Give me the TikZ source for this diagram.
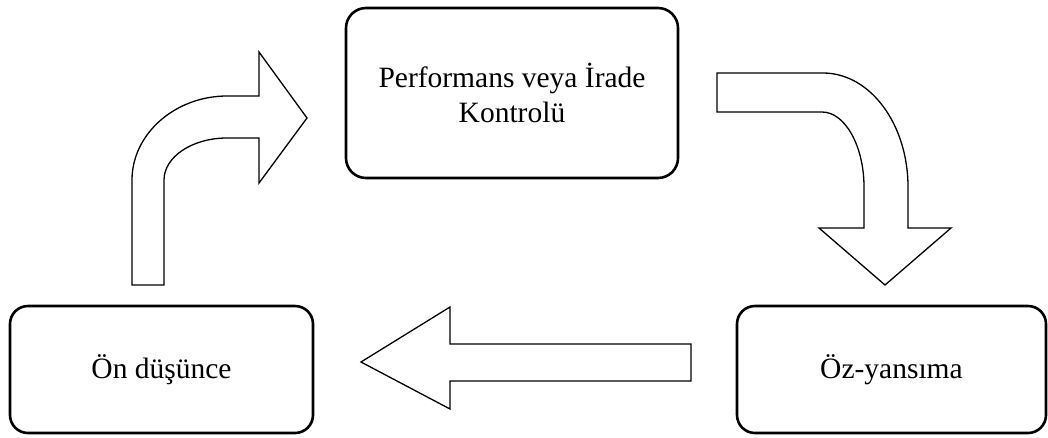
\documentclass[tikz,border=0pt]{standalone}
\usepackage{fontspec}
\setmainfont{Liberation Serif}
\begin{document}
\begin{tikzpicture}[x=1pt,y=-1pt,
  stagebox/.style={draw=black,line width=2.6pt,rounded corners=18pt,fill=white,
    align=center,inner sep=0pt,font=\fontsize{29.5}{35}\selectfont},
  blockarrow/.style={draw=black,line width=1.3pt,fill=white,line join=miter}]
\useasboundingbox (0,0) rectangle (1048,437);
% stage boxes
\node[stagebox,minimum width=332pt,minimum height=170pt,rounded corners=20pt] (perf) at (512,93)
  {Performans veya İrade\\Kontrolü};
\node[stagebox,minimum width=303pt,minimum height=127pt] (fore) at (161.5,369.5) {Ön düşünce};
\node[stagebox,minimum width=309pt,minimum height=127pt] (self) at (891.5,369.5) {Öz-yansıma};
% bent arrow: Ön düşünce -> Performans
\draw[blockarrow] (132,285) -- (132,180)
  .. controls (132,134) and (175,96) .. (227,96)
  -- (259,96) -- (259,52) -- (307,118) -- (259,183) -- (259,138) -- (227,138)
  .. controls (192,138) and (164,157) .. (164,180)
  -- (164,285) -- cycle;
% bent arrow: Performans -> Öz-yansıma
\draw[blockarrow] (717,73) -- (823,73)
  .. controls (870,73) and (908,124) .. (908,187)
  -- (908,228) -- (951,228) -- (885,285) -- (819,228) -- (864,228) -- (864,187)
  .. controls (864,146) and (845,112) .. (822,112)
  -- (717,112) -- cycle;
% straight arrow: Öz-yansıma -> Ön düşünce
\draw[blockarrow] (691,344) -- (450,344) -- (450,307) -- (361,362) -- (450,409)
  -- (450,381) -- (691,381) -- cycle;
\end{tikzpicture}
\end{document}
